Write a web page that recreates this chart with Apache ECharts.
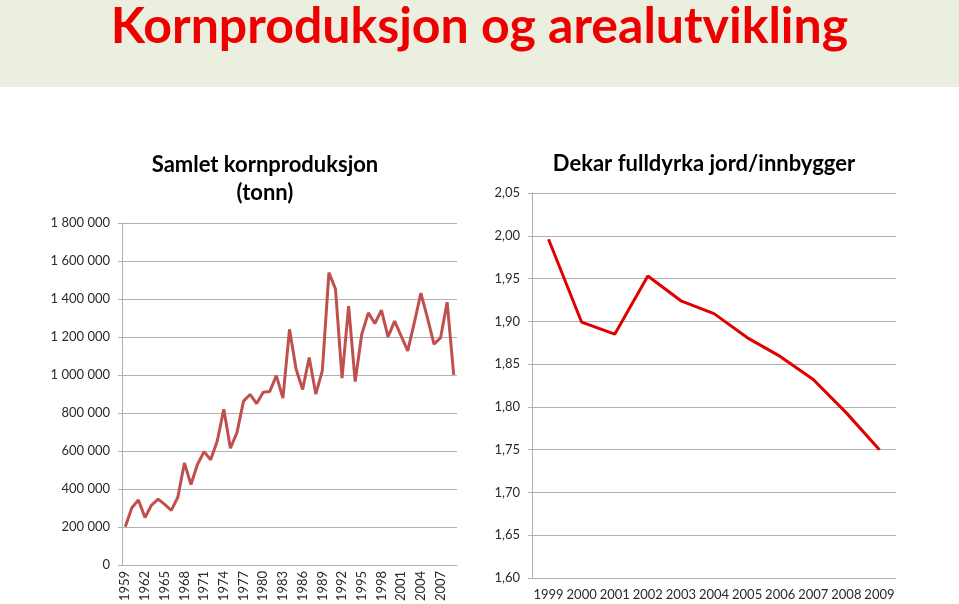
<!DOCTYPE html>
<html>
<head>
<meta charset="utf-8">
<script src="https://cdn.jsdelivr.net/npm/echarts@6/dist/echarts.min.js"></script>
<style>
html,body{margin:0;padding:0;background:#fff;}
#c{width:959px;height:604px;}
</style>
</head>
<body>
<div id="c"></div>
<script>
var mainTitle = 'Kornproduksjon og arealutvikling';
var leftTitle = 'Samlet kornproduksjon\n(tonn)';
var rightTitle = 'Dekar fulldyrka jord/innbygger';

var prodYears = [];
for (var y = 1959; y <= 2009; y++) prodYears.push(String(y));
var prodValues = [
  200000, 301000, 341000, 249000, 315000, 346000, 318000, 287000, 356000, 536000,
  423000, 530000, 596000, 553000, 652000, 819000, 614000, 696000, 862000, 897000,
  849000, 909000, 913000, 996000, 878000, 1240000, 1031000, 923000, 1092000, 899000,
  1023000, 1539000, 1452000, 983000, 1362000, 965000, 1214000, 1327000, 1271000, 1341000,
  1200000, 1283000, 1205000, 1127000, 1275000, 1431000, 1301000, 1162000, 1196000, 1383000,
  1000000
];

var areaYears = ['1999','2000','2001','2002','2003','2004','2005','2006','2007','2008','2009'];
var areaValues = [1.996, 1.899, 1.885, 1.953, 1.924, 1.909, 1.881, 1.859, 1.832, 1.793, 1.750];

var FONT = 'Lato';
var gridColor = '#b0b0b0';
var labelColor = '#2a2a2a';

var chart = echarts.init(document.getElementById('c'), null, {renderer: 'canvas'});

function spaceThousands(v) {
  return String(Math.round(v)).replace(/\B(?=(\d{3})+(?!\d))/g, ' ');
}

chart.setOption({
  animation: false,
  backgroundColor: '#ffffff',
  graphic: [
    {type: 'rect', shape: {x: 0, y: 0, width: 959, height: 87}, style: {fill: '#ebefdf'}, z: -10}
  ],
  title: [
    {text: mainTitle, left: 'center', top: -3,
     textStyle: {fontFamily: FONT, fontWeight: 'bold', fontSize: 50, color: '#ee0000'}},
    {text: leftTitle, left: 260, textAlign: 'center', top: 146,
     textStyle: {fontFamily: FONT, fontWeight: 'bold', fontSize: 22, color: '#000', lineHeight: 28}},
    {text: rightTitle, left: 699, textAlign: 'center', top: 148,
     textStyle: {fontFamily: FONT, fontWeight: 'bold', fontSize: 22, color: '#000'}}
  ],
  grid: [
    {left: 122, top: 223, width: 335, height: 345},
    {left: 532, top: 193, width: 364, height: 385}
  ],
  xAxis: [
    {type: 'category', gridIndex: 0, data: prodYears, boundaryGap: true,
     axisLine: {lineStyle: {color: gridColor, width: 1}},
     axisTick: {interval: 0, length: 3, lineStyle: {color: gridColor}},
     axisLabel: {interval: 2, rotate: 90, margin: 6, fontFamily: FONT, fontSize: 13, color: labelColor}},
    {type: 'category', gridIndex: 1, data: areaYears, boundaryGap: true,
     axisLine: {lineStyle: {color: gridColor, width: 1}},
     axisTick: {interval: 0, length: 4, lineStyle: {color: gridColor}},
     axisLabel: {interval: 0, margin: 10, fontFamily: FONT, fontSize: 13, color: labelColor}}
  ],
  yAxis: [
    {type: 'value', gridIndex: 0, min: 0, max: 1800000, interval: 200000,
     axisLine: {show: true, lineStyle: {color: gridColor}},
     axisTick: {show: true, length: 4, lineStyle: {color: gridColor}},
     splitLine: {lineStyle: {color: gridColor, width: 1}},
     axisLabel: {margin: 12, fontFamily: FONT, fontSize: 13, color: labelColor,
       formatter: function (v) { return spaceThousands(v); }}},
    {type: 'value', gridIndex: 1, min: 1.6, max: 2.05, interval: 0.05,
     axisLine: {show: true, lineStyle: {color: gridColor}},
     axisTick: {show: true, length: 4, lineStyle: {color: gridColor}},
     splitLine: {lineStyle: {color: gridColor, width: 1}},
     axisLabel: {margin: 12, fontFamily: FONT, fontSize: 13, color: labelColor,
       formatter: function (v) { return v.toFixed(2).replace('.', ','); }}}
  ],
  series: [
    {type: 'line', xAxisIndex: 0, yAxisIndex: 0, data: prodValues, symbol: 'none',
     lineStyle: {color: '#c0504d', width: 3}},
    {type: 'line', xAxisIndex: 1, yAxisIndex: 1, data: areaValues, symbol: 'none',
     lineStyle: {color: '#e00000', width: 3}}
  ]
});
</script>
</body>
</html>
